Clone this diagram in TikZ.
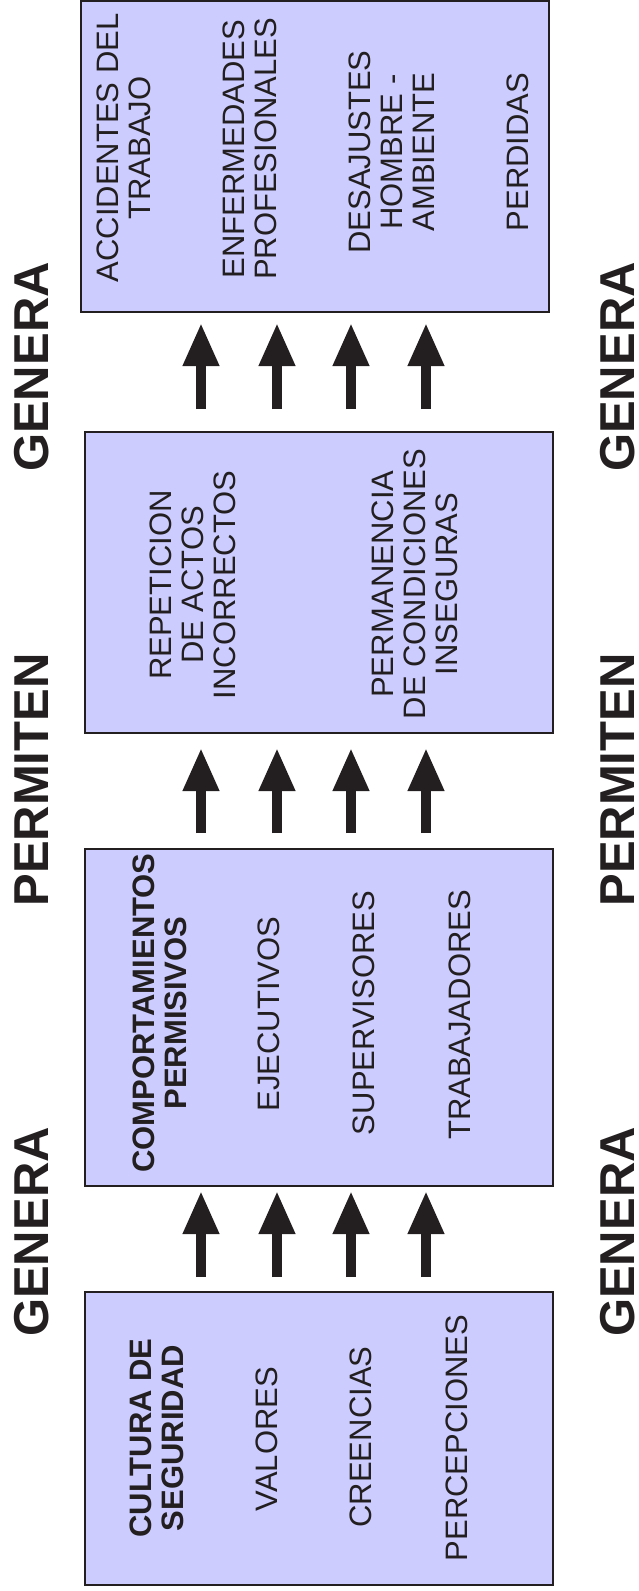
\documentclass[tikz,border=0pt]{standalone}
\usepackage{fontspec}
\setmainfont{Liberation Sans}
\usetikzlibrary{arrows.meta}
\definecolor{boxfill}{HTML}{CCCCFF}
\definecolor{ink}{HTML}{231F20}
\begin{document}
\begin{tikzpicture}[x=1pt,y=-1pt,
  panel/.style={draw=ink,line width=2pt,fill=boxfill,inner sep=0pt,outer sep=0pt},
  txt/.style={rotate=90,align=center,text=ink,inner sep=0pt,font=\fontsize{31}{32}\selectfont},
  btxt/.style={txt,font=\fontsize{31}{32}\selectfont\bfseries},
  side/.style={rotate=90,text=ink,inner sep=0pt,font=\fontsize{49}{49}\selectfont\bfseries},
  uparrow/.style={draw=ink,line width=10pt,-{Triangle[width=34pt,length=43pt]}}
]
\useasboundingbox (0,0) rectangle (639,1591);
% boxes
\node[panel,minimum width=468pt,minimum height=311pt] (b1) at (315,156.5) {};
\node[panel,minimum width=468.5pt,minimum height=301pt] (b2) at (318.75,582.5) {};
\node[panel,minimum width=468.5pt,minimum height=337pt] (b3) at (318.75,1017.5) {};
\node[panel,minimum width=468.5pt,minimum height=293pt] (b4) at (318.75,1438.5) {};
% box 1 texts
\node[txt] (t11) at (123.5,148) {ACCIDENTES DEL\\TRABAJO};
\node[txt] (t12) at (250,149) {ENFERMEDADES\\PROFESIONALES};
\node[txt] (t13) at (392,152) {DESAJUSTES\\HOMBRE -\\AMBIENTE};
\node[txt] (t14) at (518,152) {PERDIDAS};
% box 2 texts
\node[txt] (t21) at (193,585) {REPETICION\\DE ACTOS\\INCORRECTOS};
\node[txt] (t22) at (414.5,584) {PERMANENCIA\\DE CONDICIONES\\INSEGURAS};
% box 3 texts
\node[btxt] (t31) at (160,1013) {COMPORTAMIENTOS\\PERMISIVOS};
\node[txt] (t32) at (269,1014) {EJECUTIVOS};
\node[txt] (t33) at (364,1013) {SUPERVISORES};
\node[txt] (t34) at (460,1015) {TRABAJADORES};
% box 4 texts
\node[btxt] (t41) at (156.5,1438) {CULTURA DE\\SEGURIDAD};
\node[txt] (t42) at (267,1439) {VALORES};
\node[txt] (t43) at (361,1437) {CREENCIAS};
\node[txt] (t44) at (457,1438) {PERCEPCIONES};
% side labels
\node[side] (l1) at (32,367) {GENERA};
\node[side] (l2) at (32,780) {PERMITEN};
\node[side] (l3) at (32,1232) {GENERA};
\node[side] (r1) at (618,367) {GENERA};
\node[side] (r2) at (618,780) {PERMITEN};
\node[side] (r3) at (618,1232) {GENERA};
% arrow columns
\coordinate (c1) at (201,0);
\coordinate (c2) at (277,0);
\coordinate (c3) at (351,0);
\coordinate (c4) at (426,0);
\foreach \c in {c1,c2,c3,c4}{
  \draw[uparrow,shorten <=23pt,shorten >=11pt] (b2.north -| \c) -- (b1.south -| \c);
  \draw[uparrow,shorten <=16pt,shorten >=15pt] (b3.north -| \c) -- (b2.south -| \c);
  \draw[uparrow,shorten <=15pt,shorten >=5pt] (b4.north -| \c) -- (b3.south -| \c);
}
\end{tikzpicture}
\end{document}
